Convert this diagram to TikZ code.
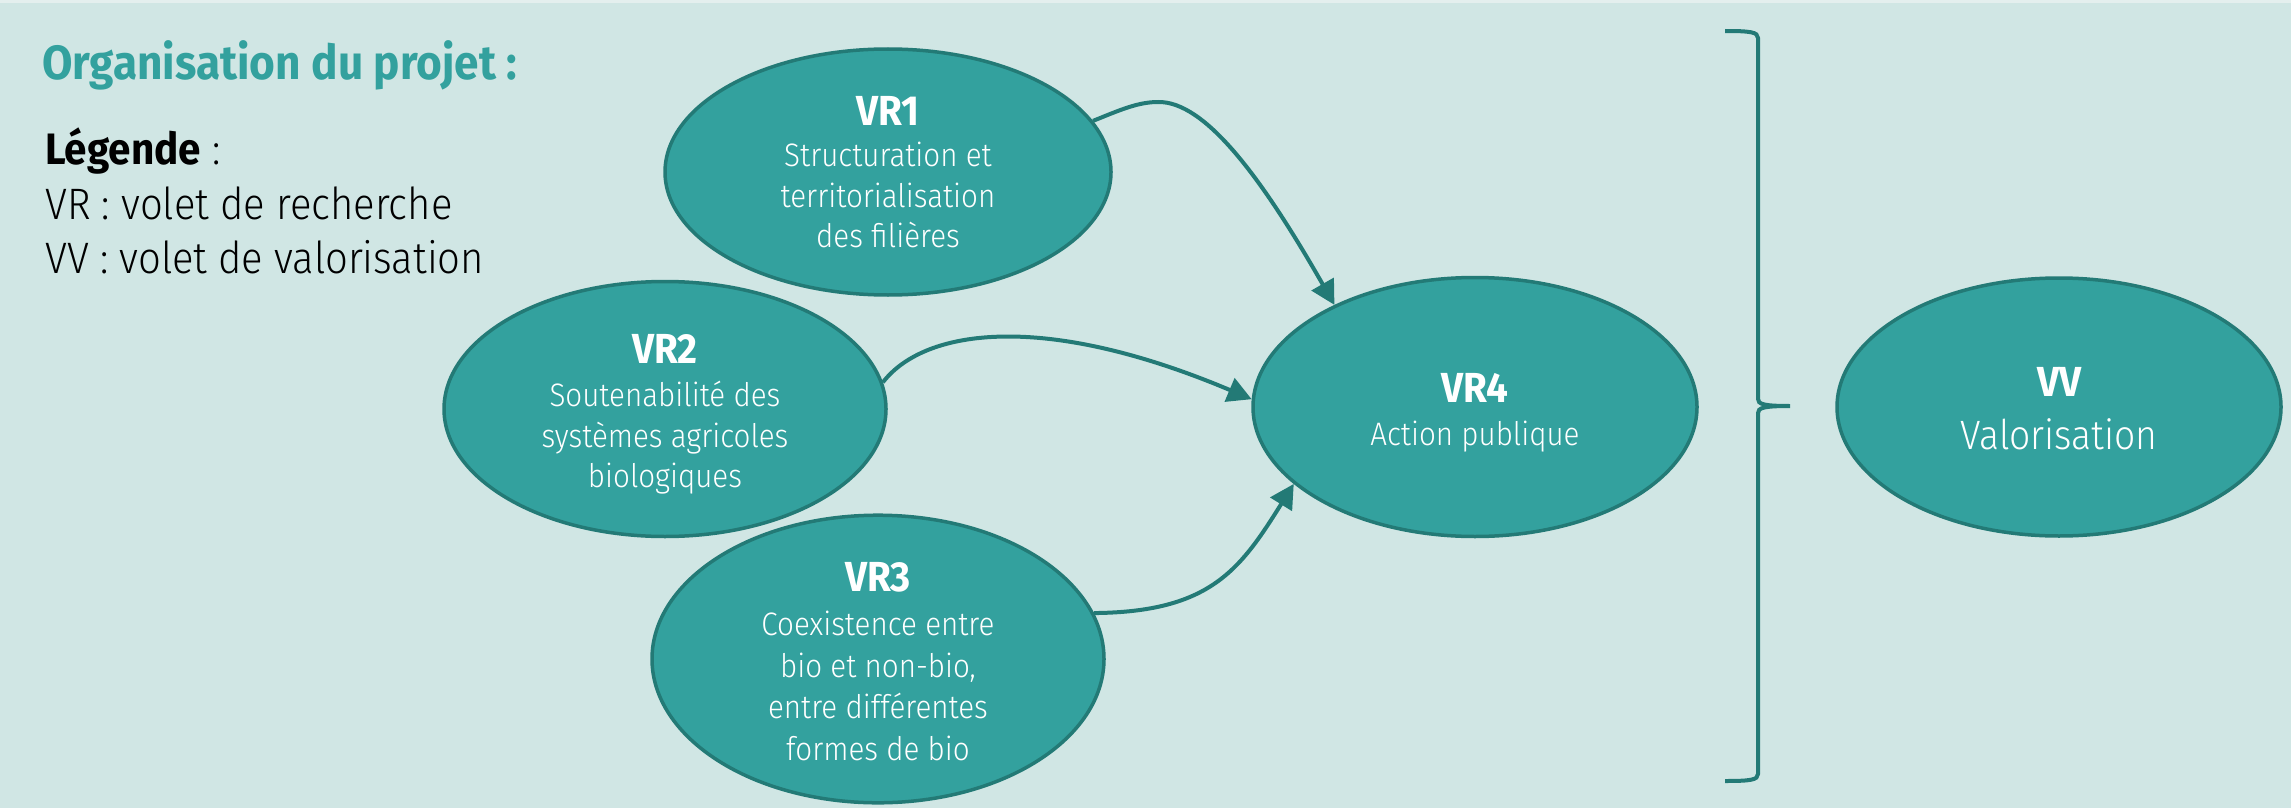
\documentclass[tikz,border=0pt]{standalone}
\usepackage{fontspec}
\setmainfont{Fira Sans}[FakeStretch=0.92]
\newfontfamily\lightfont{Fira Sans Light}[FakeStretch=0.91]
\usetikzlibrary{arrows.meta,shapes.geometric}
\definecolor{bgcol}{HTML}{D0E6E4}
\definecolor{topcol}{HTML}{E4EFEE}
\definecolor{vfill}{HTML}{33A19E}
\definecolor{vline}{HTML}{237A76}
% heading of an ellipse; #1 = extra height above (pt), #2 = text
\newcommand\hd[2]{{\normalfont\bfseries\fontsize{42}{41}\selectfont\rule{0pt}{\dimexpr 29pt+#1pt\relax}#2}}
\begin{document}
\begin{tikzpicture}[x=1pt,y=-1pt,
  volet/.style={ellipse, draw=vline, fill=vfill, line width=3.5pt, inner sep=0pt,
    text=white, align=center, font=\lightfont\fontsize{32.5}{40.5}\selectfont},
  conn/.style={draw=vline, line width=4pt, -{Triangle[length=24pt,width=25pt]}},
  brace/.style={draw=vline, line width=4pt},
  titre/.style={anchor=base west, inner sep=0pt, text=vfill, font=\bfseries\fontsize{48}{48}\selectfont},
  leg/.style={anchor=base west, inner sep=0pt, text=black, font=\lightfont\fontsize{44}{44}\selectfont}
]
\useasboundingbox (0,0) rectangle (2291,808);
\fill[bgcol] (0,0) rectangle (2291,808);
\fill[topcol] (0,0) rectangle (2291,3);

\node[titre] (title) at (42,80) {Organisation du projet :};
\node[leg] (leg0) at (45,164) {{\normalfont\bfseries Légende} :};
\node[leg] (leg1) at (45,219) {VR : volet de recherche};
\node[leg] (leg2) at (45,273) {VV : volet de valorisation};

\node[volet, minimum width=446pt, minimum height=246pt] (vr1) at (888,172)
  {\hd{0}{VR1}\\[1pt]Structuration et\\territorialisation\\des filières};
\node[volet, minimum width=442pt, minimum height=255pt] (vr2) at (665,409)
  {\hd{11}{VR2}\\[2.5pt]Soutenabilité des\\systèmes agricoles\\biologiques};
\node[volet, minimum width=452pt, minimum height=270pt,
  font=\lightfont\fontsize{32.5}{41.5}\selectfont] (vr3) at (878,659)
  {\hd{5}{VR3}\\[3pt]Coexistence entre\\bio et non-bio,\\entre différentes\\formes de bio};
\node[volet, minimum width=444pt, minimum height=259pt] (vr4) at (1475,407)
  {\hd{12}{VR4}\\[2.5pt]Action publique};
\node[volet, minimum width=444pt, minimum height=258pt,
  font=\lightfont\fontsize{41}{41}\selectfont] (vv) at (2059,407)
  {\hd{4}{VV}\\[12pt]Valorisation};

\draw[conn] (vr1.14) .. controls (1120,110) and (1138,102) .. (1158,102)
  .. controls (1205,101) and (1262,178) .. (vr4.144);
\draw[conn] (vr2.7) .. controls (925,328) and (1045,312) .. (vr4.178);
\draw[conn] (vr3.12) .. controls (1210,612) and (1240,570) .. (vr4.203);

\draw[brace] (1725,31) .. controls (1750,31) and (1758,32) .. (1758,38)
  -- (1758,399) .. controls (1758,404) and (1763,406) .. (1790,406)
  .. controls (1763,406) and (1758,408) .. (1758,413)
  -- (1758,774) .. controls (1758,780) and (1750,781) .. (1725,781);
\end{tikzpicture}
\end{document}
